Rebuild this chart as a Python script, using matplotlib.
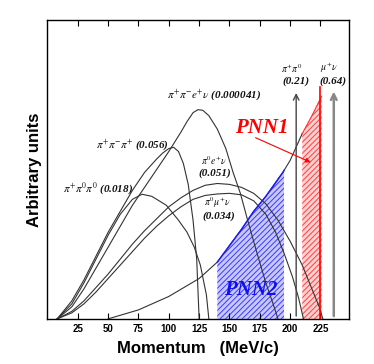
import matplotlib
matplotlib.use("Agg")
import matplotlib.pyplot as plt
import numpy as np

plt.rcParams['mathtext.fontset'] = 'stix'
plt.rcParams['hatch.linewidth'] = 0.7

# ---- data (momentum in MeV/c, arbitrary units) ----
tau_x = [8, 20, 30, 40, 50, 60, 70, 80, 90, 95, 100, 104, 108, 112, 116, 120, 123, 125]
tau_y = [0, 0.06, 0.13, 0.21, 0.29, 0.36, 0.43, 0.49, 0.535, 0.555, 0.57, 0.574, 0.56, 0.52, 0.45, 0.33, 0.20, 0]

taup_x = [8, 20, 30, 40, 50, 60, 70, 78, 86, 98, 108, 115, 121, 126, 131, 133]
taup_y = [0, 0.05, 0.12, 0.20, 0.28, 0.35, 0.40, 0.417, 0.41, 0.38, 0.33, 0.29, 0.24, 0.18, 0.08, 0]

ke4_x = [8, 20, 30, 40, 50, 60, 70, 80, 90, 100, 110, 115, 120, 124, 128, 133, 140, 147, 153, 159, 165, 172, 180, 186, 190]
ke4_y = [0, 0.04, 0.10, 0.17, 0.24, 0.31, 0.38, 0.44, 0.50, 0.56, 0.625, 0.66, 0.69, 0.70, 0.698, 0.68, 0.635, 0.57, 0.49, 0.42, 0.33, 0.23, 0.12, 0.05, 0]

ke3_x = [8, 20, 30, 40, 50, 60, 70, 80, 90, 100, 110, 120, 130, 140, 150, 160, 170, 180, 190, 200, 210, 218, 224, 227]
ke3_y = [0, 0.025, 0.06, 0.105, 0.15, 0.20, 0.25, 0.295, 0.335, 0.375, 0.405, 0.43, 0.447, 0.453, 0.45, 0.44, 0.42, 0.385, 0.33, 0.26, 0.18, 0.10, 0.04, 0]

km3_x = [8, 20, 30, 40, 50, 60, 70, 80, 90, 100, 110, 120, 130, 140, 150, 160, 170, 180, 188, 195, 202, 207, 211]
km3_y = [0, 0.02, 0.05, 0.09, 0.135, 0.18, 0.225, 0.27, 0.31, 0.345, 0.375, 0.40, 0.413, 0.418, 0.42, 0.415, 0.395, 0.35, 0.29, 0.22, 0.14, 0.07, 0]

sig_x = [50, 75, 100, 125, 140, 150, 160, 170, 180, 194, 200, 210, 218, 226]
sig_y = [0, 0.03, 0.075, 0.135, 0.19, 0.245, 0.30, 0.36, 0.41, 0.49, 0.53, 0.62, 0.68, 0.745]

pnn2_range = [140, 195]
pnn1_range = [210, 226]
kpi2_p, kpi2_h = 205, 0.765
kmu2_p, kmu2_h = 236, 0.77
red_line_p, red_line_h = 225, 0.777

xticks = [25, 50, 75, 100, 125, 150, 175, 200, 225]

fig = plt.figure(figsize=(3.74, 3.64), dpi=100)
ax = fig.add_axes([0.127, 0.124, 0.806, 0.821])
ax.set_xlim(0, 248.5)
ax.set_ylim(0, 1)

# regions
sx = np.array(sig_x, float); sy = np.array(sig_y, float)
m2 = (sx >= pnn2_range[0]) & (sx <= pnn2_range[1])
x2 = np.concatenate([[pnn2_range[0]], sx[m2], [pnn2_range[1]]])
y2 = np.interp(x2, sx, sy)
ax.fill_between(x2, 0, y2, facecolor='#c8c8ff', edgecolor='#3a3aff', hatch='//////', linewidth=0, zorder=1)
ax.plot(x2, y2, color='#1a1aff', lw=1.0, zorder=3)

m1 = (sx >= pnn1_range[0]) & (sx <= pnn1_range[1])
x1 = np.concatenate([[pnn1_range[0]], sx[m1], [pnn1_range[1]]])
y1 = np.interp(x1, sx, sy)
ax.fill_between(x1, 0, y1, facecolor='#ffd0d0', edgecolor='#ff4040', hatch='//////', linewidth=0, zorder=1)
ax.plot(x1, y1, color='#ff3030', lw=0.8, zorder=3)

lc = '#333333'
for xs, ys in [(tau_x, tau_y), (taup_x, taup_y), (ke4_x, ke4_y), (ke3_x, ke3_y), (km3_x, km3_y)]:
    ax.plot(xs, ys, color=lc, lw=0.8, zorder=2)
msig = sx <= pnn1_range[0]
ax.plot(sx[msig], sy[msig], color=lc, lw=0.8, zorder=2)

# vertical lines / arrows
ax.plot([red_line_p, red_line_p], [0, red_line_h], color='red', lw=1.2, zorder=4)
ax.annotate('', xy=(kpi2_p, kpi2_h), xytext=(kpi2_p, 0),
            arrowprops=dict(arrowstyle='->', color='#444444', lw=1.0, mutation_scale=10), zorder=4)
ax.annotate('', xy=(kmu2_p, kmu2_h), xytext=(kmu2_p, 0),
            arrowprops=dict(arrowstyle='->', color='#888888', lw=1.8, mutation_scale=10), zorder=4)

sf = dict(family='Liberation Serif', fontsize=8, fontstyle='italic', fontweight='bold', color='#111111')
mf = dict(family='Liberation Serif', fontsize=7, color='#111111')
ax.text(137, 0.749, r'$\pi^{+}\pi^{-}e^{+}\nu$ (0.000041)', ha='center', va='center', **sf)
ax.text(70, 0.582, r'$\pi^{+}\pi^{-}\pi^{+}$ (0.056)', ha='center', va='center', **sf)
ax.text(42, 0.434, r'$\pi^{+}\pi^{0}\pi^{0}$ (0.018)', ha='center', va='center', **sf)
ax.text(137, 0.508, r'$\pi^{0}e^{+}\nu$', ha='center', va='bottom', **mf)
ax.text(138, 0.487, '(0.051)', ha='center', va='center', **sf)
ax.text(140, 0.365, r'$\pi^{0}\mu^{+}\nu$', ha='center', va='bottom', **mf)
ax.text(141.5, 0.343, '(0.034)', ha='center', va='center', **sf)
ax.text(201.5, 0.815, r'$\pi^{+}\pi^{0}$', ha='center', va='bottom', **mf)
ax.text(205, 0.794, '(0.21)', ha='center', va='center', **sf)
ax.text(232, 0.815, r'$\mu^{+}\nu$', ha='center', va='bottom', **mf)
ax.text(235.5, 0.794, '(0.64)', ha='center', va='center', **sf)

bf = dict(family='Liberation Serif', fontsize=15, fontstyle='italic', fontweight='bold')
ax.text(177, 0.638, 'PNN1', color='red', ha='center', va='center', **bf)
ax.text(167.5, 0.096, 'PNN2', color='#1010ee', ha='center', va='center', zorder=5, **bf)
ax.annotate('', xy=(219, 0.52), xytext=(169.4, 0.61),
            arrowprops=dict(arrowstyle='-|>', color='red', lw=0.8, mutation_scale=7), zorder=5)

ax.set_xticks(xticks)
ax.set_xticklabels([str(t) for t in xticks], fontfamily='Liberation Sans', fontweight='bold', fontsize=7)
ax.set_yticks([])
ax.tick_params(axis='x', direction='in', length=4, width=0.8, top=True, pad=4)
for s in ax.spines.values():
    s.set_linewidth(1.0)
ax.set_xlabel('Momentum   (MeV/c)', fontfamily='Liberation Sans', fontweight='bold', fontsize=12, labelpad=5)
ax.set_ylabel('Arbitrary units', fontfamily='Liberation Sans', fontweight='bold', fontsize=12, labelpad=4)

fig.savefig('out.png', dpi=100)
